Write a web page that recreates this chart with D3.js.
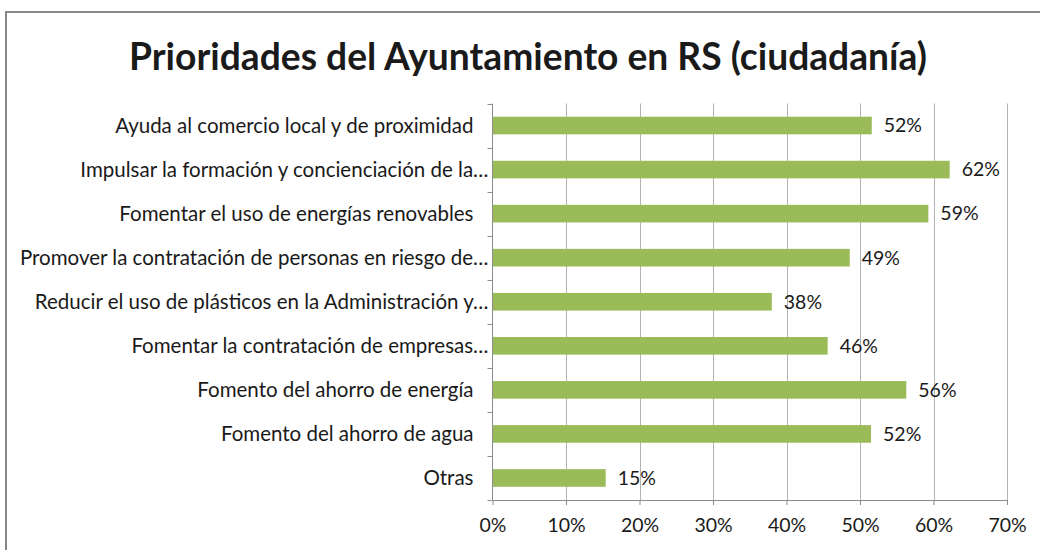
<!DOCTYPE html>
<html>
<head>
<meta charset="utf-8">
<script src="https://cdn.jsdelivr.net/npm/d3@7"></script>
<style>
  body { margin: 0; background: #fff; }
  svg { display: block; }
  text { font-family: Lato, "Open Sans", sans-serif; fill: #1a1a1a; }
</style>
</head>
<body>
<div id="chart"></div>
<script>
// chart data
let categories = [
    "Ayuda al comercio local y de proximidad",
    "Impulsar la formación y concienciación de la…",
    "Fomentar el uso de energías renovables",
    "Promover la contratación de personas en riesgo de…",
    "Reducir el uso de plásticos en la Administración y…",
    "Fomentar la contratación de empresas…",
    "Fomento del ahorro de energía",
    "Fomento del ahorro de agua",
    "Otras"
];
let values = [0.516, 0.622, 0.593, 0.486, 0.380, 0.456, 0.563, 0.515, 0.154];
let xTicks = [0, 0.1, 0.2, 0.3, 0.4, 0.5, 0.6, 0.7];
let titleText = "Prioridades del Ayuntamiento en RS (ciudadanía)";

let svgWidth = 1040;
let svgHeight = 550;

let svg = d3.select("#chart").append("svg")
    .attr("width", svgWidth)
    .attr("height", svgHeight);

// outer chart border (runs off the right / bottom edge like the reference)
svg.append("rect")
    .attr("x", 6)
    .attr("y", 12)
    .attr("width", 1100)
    .attr("height", 600)
    .attr("fill", "none")
    .attr("stroke", "#878787")
    .attr("stroke-width", 2);

svg.append("text")
    .attr("x", 528)
    .attr("y", 70)
    .attr("text-anchor", "middle")
    .attr("font-size", 37.2)
    .attr("font-weight", "bold")
    .attr("fill", "#000")
    .text(titleText);

let plotLeft = 492.5, plotRight = 1007, plotTop = 103.5, plotBottom = 500;

let x = d3.scaleLinear().domain([0, 0.7]).range([plotLeft, plotRight]);
let y = d3.scaleBand().domain(categories).range([plotTop, plotBottom]).paddingInner(0.6).paddingOuter(0.3);

// gridlines
svg.append("g")
    .selectAll("line")
    .data(xTicks.slice(1))
    .enter()
    .append("line")
    .attr("x1", d => Math.round(x(d)) + 0.5)
    .attr("x2", d => Math.round(x(d)) + 0.5)
    .attr("y1", plotTop)
    .attr("y2", plotBottom)
    .attr("stroke", "#b3b3b3");

// bars
svg.append("g")
    .selectAll("rect")
    .data(values)
    .enter()
    .append("rect")
    .attr("x", plotLeft)
    .attr("y", (d, i) => y(categories[i]))
    .attr("width", d => x(d) - plotLeft)
    .attr("height", y.bandwidth())
    .attr("fill", "#9bbb59");

// value labels
svg.append("g")
    .selectAll("text")
    .data(values)
    .enter()
    .append("text")
    .attr("x", d => x(d) + 12)
    .attr("y", (d, i) => y(categories[i]) + y.bandwidth() / 2)
    .attr("dy", "0.35em")
    .attr("font-size", 19.5)
    .text(d => d3.format(".0%")(d));

// x axis
let xAxis = svg.append("g")
    .attr("transform", "translate(0," + plotBottom + ")")
    .call(d3.axisBottom(x).tickValues(xTicks).tickFormat(d3.format(".0%")).tickSize(5).tickSizeOuter(0));
xAxis.select(".domain").attr("stroke", "#8c8c8c");
xAxis.selectAll(".tick line").attr("stroke", "#8c8c8c");
xAxis.selectAll(".tick text")
    .attr("font-size", 19.5)
    .attr("font-family", "Lato, sans-serif")
    .attr("fill", "#1a1a1a")
    .attr("y", 18);

// y axis: Excel style ticks on category boundaries
let yAxisG = svg.append("g");
yAxisG.append("line")
    .attr("x1", plotLeft).attr("x2", plotLeft)
    .attr("y1", plotTop).attr("y2", plotBottom)
    .attr("stroke", "#8c8c8c");
let step = (plotBottom - plotTop) / categories.length;
yAxisG.selectAll(".btick")
    .data(d3.range(categories.length + 1))
    .enter()
    .append("line")
    .attr("class", "btick")
    .attr("x1", plotLeft - 5).attr("x2", plotLeft)
    .attr("y1", i => Math.round(plotTop + i * step) + 0.5)
    .attr("y2", i => Math.round(plotTop + i * step) + 0.5)
    .attr("stroke", "#8c8c8c");

yAxisG.selectAll(".clabel")
    .data(categories)
    .enter()
    .append("text")
    .attr("class", "clabel")
    .attr("x", d => d.endsWith("…") ? plotLeft - 4 : plotLeft - 19)
    .attr("y", d => y(d) + y.bandwidth() / 2)
    .attr("dy", "0.35em")
    .attr("text-anchor", "end")
    .attr("font-size", 20.5)
    .text(d => d);
</script>
</body>
</html>
